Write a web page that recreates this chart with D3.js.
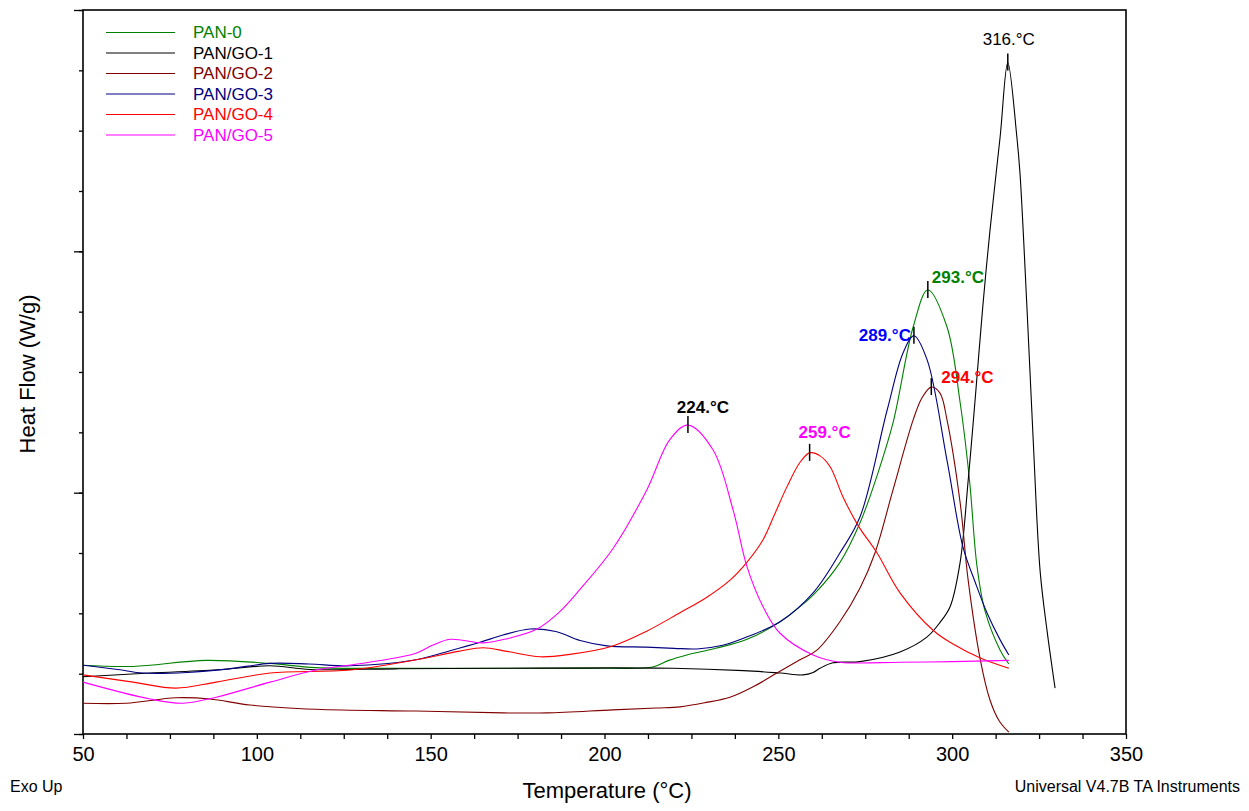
<!DOCTYPE html>
<html>
<head>
<meta charset="utf-8">
<script src="https://cdn.jsdelivr.net/npm/d3@7"></script>
<style>
  body { margin: 0; background: #fff; }
  svg { display: block; font-family: Arial, "Liberation Sans", sans-serif; }
</style>
</head>
<body>
<script>
// DSC curves, temperature in °C and heat flow (arbitrary units, no tick labels on y)
const seriesNames = ["PAN-0", "PAN/GO-1", "PAN/GO-2", "PAN/GO-3", "PAN/GO-4", "PAN/GO-5"];

const pan0T = [50, 64.4, 85.4, 103.8, 117.0, 145.8, 170.8, 200, 213.9, 218.5, 223.7, 232, 241.0, 250.5, 256.2, 260.0, 267.7, 273.5, 278.5, 283.0, 288.8, 293, 298.5, 302.3, 305, 307.1, 309.4, 313.8, 316.3];
const pan0V = [1.14, 1.12, 1.22, 1.17, 1.10, 1.09, 1.09, 1.09, 1.11, 1.22, 1.31, 1.42, 1.57, 1.86, 2.11, 2.30, 2.84, 3.50, 4.30, 5.16, 6.75, 7.36, 6.75, 5.49, 4.20, 2.80, 2.05, 1.39, 1.16];

const go1T = [50, 69.3, 90, 103.8, 115.3, 140, 170.8, 219.7, 240, 250.5, 257.1, 260, 262.0, 265.7, 273.5, 285, 292.8, 296.5, 299.4, 302.3, 304.6, 306.6, 308.8, 310.9, 313.8, 316, 318.6, 319.5, 321.5, 323.3, 325.3, 327.3, 329.6];
const go1V = [0.95, 1.01, 1.07, 1.13, 1.07, 1.08, 1.09, 1.09, 1.05, 1.01, 0.98, 1.02, 1.09, 1.18, 1.20, 1.36, 1.61, 1.85, 2.11, 2.85, 4.20, 5.54, 7.08, 8.36, 9.90, 11.13, 9.90, 9.30, 7.08, 4.88, 2.70, 1.71, 0.76];

const go2T = [50, 62.4, 76.7, 86.5, 98.0, 117.0, 145.8, 170.8, 183.5, 202.4, 215, 221.7, 229, 236.1, 243, 249.6, 256.2, 261.1, 267.7, 273.5, 277.8, 283.0, 288.8, 291.3, 294, 296.5, 298.5, 302.3, 304.6, 308.1, 310.9, 313.5, 316.3];
const go2V = [0.51, 0.51, 0.60, 0.58, 0.48, 0.41, 0.38, 0.35, 0.35, 0.40, 0.43, 0.45, 0.52, 0.61, 0.79, 1.01, 1.23, 1.39, 1.86, 2.42, 3.00, 4.05, 5.21, 5.57, 5.75, 5.65, 5.21, 3.83, 2.55, 1.23, 0.56, 0.22, 0.03];

const go3T = [50, 60, 67.3, 80, 92, 103.8, 115, 126.8, 145.8, 155.6, 164.2, 170.8, 178.6, 186, 193, 200.7, 212, 220, 226.6, 234, 241.0, 250.5, 260.0, 267.7, 273.5, 281.3, 285.9, 289, 292.8, 298.5, 303.1, 306.6, 310.0, 313.8, 316.3];
const go3V = [1.14, 1.07, 1.01, 1.02, 1.08, 1.17, 1.16, 1.13, 1.23, 1.38, 1.52, 1.64, 1.74, 1.70, 1.55, 1.46, 1.44, 1.42, 1.41, 1.47, 1.61, 1.86, 2.34, 3.00, 3.60, 5.37, 6.32, 6.60, 6.20, 4.54, 3.10, 2.52, 2.01, 1.56, 1.31];

const go4T = [50, 64.4, 76.7, 88.3, 103.8, 126.8, 145.8, 158, 165.1, 172, 181.4, 190, 202.4, 212, 221.7, 229, 236.1, 241, 245.6, 249, 252.5, 256.2, 259, 262, 264.9, 268.6, 273, 278.4, 285, 294.5, 300, 308.1, 316.3];
const go4V = [0.98, 0.86, 0.76, 0.86, 1.01, 1.06, 1.23, 1.37, 1.43, 1.37, 1.28, 1.32, 1.46, 1.70, 2.01, 2.25, 2.55, 2.85, 3.22, 3.65, 4.10, 4.50, 4.66, 4.61, 4.43, 3.93, 3.45, 3.00, 2.34, 1.72, 1.50, 1.26, 1.09];

const go5T = [50, 69.3, 78.8, 88.3, 103.8, 117.0, 131.4, 145.8, 150.5, 155.6, 165.1, 172, 180.6, 187, 193.0, 202.4, 212.2, 218.8, 224, 231.2, 237.0, 241.0, 245.6, 250.5, 260.0, 267.7, 285, 300, 316.3];
const go5V = [0.86, 0.58, 0.51, 0.61, 0.86, 1.06, 1.18, 1.34, 1.47, 1.57, 1.51, 1.58, 1.74, 2.02, 2.40, 3.07, 4.05, 4.88, 5.12, 4.71, 3.71, 2.77, 2.11, 1.67, 1.31, 1.19, 1.19, 1.20, 1.22];

// peak annotations: series index, peak temperature, label text
const peakSeries = [1, 0, 3, 2, 4, 5];
const peakTemps = [316, 293, 289, 294, 259, 224];
const peakLabels = ["316.°C", "293.°C", "289.°C", "294.°C", "259.°C", "224.°C"];

const xTicksMajor = [50, 100, 150, 200, 250, 300, 350];

const lineColors = ["#008000", "#000000", "#800000", "#000080", "#ff0000", "#ff00ff"];
const legendColors = ["#008000", "#000000", "#800000", "#000080", "#ff0000", "#ff00ff"];
// label style per annotation (same order as peakTemps)
const peakStyle = [
  {color: "#000", bold: false, anchor: "middle", dx: 1, dy: -17},
  {color: "#008000", bold: true, anchor: "start", dx: 4, dy: -7},
  {color: "#0000ff", bold: true, anchor: "end", dx: -3, dy: 5},
  {color: "#ff0000", bold: true, anchor: "start", dx: 10, dy: -4},
  {color: "#ff00ff", bold: true, anchor: "middle", dx: 15, dy: -15},
  {color: "#000", bold: true, anchor: "middle", dx: 15, dy: -12}
];

const allT = [pan0T, go1T, go2T, go3T, go4T, go5T];
const allV = [pan0V, go1V, go2V, go3V, go4V, go5V];
const series = seriesNames.map((name, i) => ({
  name: name,
  points: allT[i].map((t, j) => ({t: t, v: allV[i][j]}))
}));

const W = 1249, H = 811;
const svg = d3.select("body").append("svg")
  .attr("width", W).attr("height", H);
svg.append("rect").attr("width", W).attr("height", H).attr("fill", "#fff");

const x = d3.scaleLinear().domain([50, 350]).range([83, 1126]);
const y = d3.scaleLinear().domain([0, 12]).range([734, 10]);

// x axis: minor ticks every 12.5, labels on majors
svg.append("g")
  .attr("transform", `translate(0,${y(0)})`)
  .call(d3.axisBottom(x).tickValues(d3.range(50, 350.1, 12.5)).tickSize(5)
    .tickFormat(d => xTicksMajor.includes(d) ? d : ""))
  .call(g => g.select(".domain").remove())
  .call(g => g.selectAll("line").attr("stroke", "#000").attr("stroke-width", 1.3))
  .call(g => g.selectAll("text").attr("font-size", 20).attr("fill", "#000")
    .attr("font-family", "Arial, 'Liberation Sans', sans-serif").attr("dy", "0.95em"));

// y axis: minor every unit, majors every 4, no labels
svg.append("g")
  .attr("transform", `translate(${x(50)},0)`)
  .call(d3.axisLeft(y).tickValues(d3.range(0, 13)).tickSize(4).tickFormat(""))
  .call(g => g.select(".domain").remove())
  .call(g => g.selectAll("line").attr("stroke", "#000").attr("stroke-width", 1.3));
svg.append("g")
  .attr("transform", `translate(${x(50)},0)`)
  .call(d3.axisLeft(y).tickValues([0, 4, 8, 12]).tickSize(9).tickFormat(""))
  .call(g => g.select(".domain").remove())
  .call(g => g.selectAll("line").attr("stroke", "#000").attr("stroke-width", 1.3));

// frame
svg.append("rect")
  .attr("x", x(50)).attr("y", y(12))
  .attr("width", x(350) - x(50)).attr("height", y(0) - y(12))
  .attr("fill", "none").attr("stroke", "#000").attr("stroke-width", 1.6);

// curves
const line = d3.line()
  .x(d => x(d.t)).y(d => y(d.v))
  .curve(d3.curveCatmullRom.alpha(0.5));

svg.append("g").selectAll("path")
  .data(series)
  .join("path")
    .attr("d", d => line(d.points))
    .attr("fill", "none")
    .attr("stroke", (d, i) => lineColors[i])
    .attr("stroke-width", 1.1);

// peak marks
const peaks = peakTemps.map((t, i) => {
  const s = series[peakSeries[i]];
  const p = s.points.reduce((a, b) => Math.abs(b.t - t) < Math.abs(a.t - t) ? b : a);
  return {t: p.t, v: p.v, label: peakLabels[i], style: peakStyle[i]};
});

const pk = svg.append("g");
pk.selectAll("line")
  .data(peaks)
  .join("line")
    .attr("x1", d => x(d.t)).attr("x2", d => x(d.t))
    .attr("y1", d => y(d.v) - 9).attr("y2", d => y(d.v) + 8)
    .attr("stroke", "#000").attr("stroke-width", 1.5);
pk.selectAll("text")
  .data(peaks)
  .join("text")
    .attr("x", d => x(d.t) + d.style.dx)
    .attr("y", d => y(d.v) + d.style.dy)
    .attr("text-anchor", d => d.style.anchor)
    .attr("font-size", 17)
    .attr("font-weight", d => d.style.bold ? "bold" : "normal")
    .attr("fill", d => d.style.color)
    .text(d => d.label);

// legend
const legend = svg.append("g").attr("transform", "translate(106,32.5)");
const li = legend.selectAll("g")
  .data(seriesNames)
  .join("g")
    .attr("transform", (d, i) => `translate(0,${i * 20.5})`);
li.append("line")
  .attr("x1", 0).attr("x2", 69)
  .attr("stroke", (d, i) => lineColors[i]).attr("stroke-width", 1.1);
li.append("text")
  .attr("x", 87).attr("y", 5.5)
  .attr("font-size", 17)
  .attr("fill", (d, i) => legendColors[i])
  .text(d => d);

// axis titles and footer
svg.append("text")
  .attr("x", 607).attr("y", 798)
  .attr("text-anchor", "middle").attr("font-size", 22)
  .text("Temperature (°C)");
svg.append("text")
  .attr("transform", "translate(35,374) rotate(-90)")
  .attr("text-anchor", "middle").attr("font-size", 22)
  .text("Heat Flow (W/g)");
svg.append("text")
  .attr("x", 10).attr("y", 792)
  .attr("font-size", 16)
  .text("Exo Up");
svg.append("text")
  .attr("x", 1240).attr("y", 792)
  .attr("text-anchor", "end").attr("font-size", 16)
  .text("Universal V4.7B TA Instruments");
</script>
</body>
</html>
